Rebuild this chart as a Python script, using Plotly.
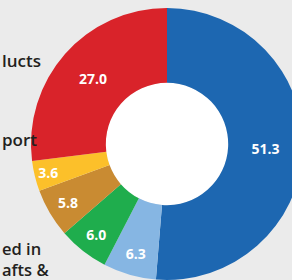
import plotly.graph_objects as go

# Data
categories = ["Domestic", "Other", "Used in crafts", "Processed", "Export", "Products"]
values = [51.3, 6.3, 6.0, 5.8, 3.6, 27.0]
colors = ["#1d67b1", "#86b6e3", "#1fad4d", "#c98b32", "#fcc02a", "#d9232a"]
side_labels = ["lucts", "port", "ed in<br>afts &"]

W, H = 320, 300
L, T, R, B = 31, 8, 17, 20
PW, PH = W - L - R, H - T - B

def px(x):
    return (x - L) / PW

def py(y):
    return 1 - (y - T) / PH

fig = go.Figure()
fig.add_trace(go.Pie(
    labels=categories,
    values=values,
    marker=dict(colors=colors, line=dict(width=0)),
    hole=0.45,
    sort=False,
    direction="clockwise",
    rotation=0,
    texttemplate="%{value:.1f}",
    textposition="inside",
    insidetextorientation="horizontal",
    textfont=dict(family="Open Sans", size=14, color="white", weight="bold"),
    showlegend=False,
    hoverinfo="skip",
))

# white centre of the donut
r_in = 0.45 * 0.5
fig.add_shape(type="circle", xref="paper", yref="paper",
              x0=0.5 - r_in, x1=0.5 + r_in, y0=0.5 - r_in, y1=0.5 + r_in,
              fillcolor="white", line=dict(width=0), layer="below")

label_pos = [(0, 61, 17), (0, 139, 17), (0, 259, 16.5)]
for txt, (x, y, fs) in zip(side_labels, label_pos):
    fig.add_annotation(text=txt, xref="paper", yref="paper",
                       x=px(x), y=py(y), xanchor="left", yanchor="middle",
                       align="left", showarrow=False,
                       font=dict(family="Open Sans", size=fs, color="#231f20", weight=600))

fig.update_layout(
    width=W, height=H,
    margin=dict(l=L, r=R, t=T, b=B),
    paper_bgcolor="#ebebeb",
    plot_bgcolor="#ebebeb",
    uniformtext=dict(minsize=14, mode="show"),
)

fig.write_html("out.html",
               config={"displayModeBar": False},
               post_script="document.body.style.margin='0';"
                           "document.body.style.overflow='hidden';"
                           "document.body.style.background='#ebebeb';")
